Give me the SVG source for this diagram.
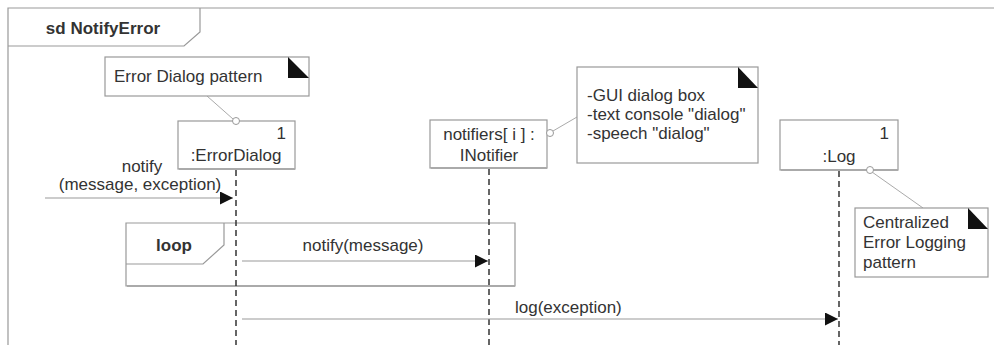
<svg xmlns="http://www.w3.org/2000/svg" width="994" height="345" viewBox="0 0 994 345">
<style>
text{font-family:"Liberation Sans",Arial,sans-serif;font-size:17px;fill:#333}
.b{font-weight:bold}
.frame{fill:none;stroke:#999;stroke-width:1.2}
.box{fill:#fff;stroke:#999;stroke-width:1.2}
.shadow{fill:none;stroke:#aaa;stroke-width:2}
.life{stroke:#333;stroke-width:1.5;stroke-dasharray:6 4;fill:none}
.msg{stroke:#999;stroke-width:1.2;fill:none}
.anchor{stroke:#aaa;stroke-width:1;fill:none}
.circ{fill:#fff;stroke:#999;stroke-width:1}
.fold{fill:#111}
</style>
<defs>
<marker id="ah" viewBox="0 0 10 10" refX="10" refY="5" markerWidth="13" markerHeight="13" markerUnits="userSpaceOnUse" orient="auto">
<path d="M0,0 L10,5 L0,10 z" fill="#111"/>
</marker>
</defs>
<rect width="994" height="345" fill="#fff"/>
<g id="frame">
<path class="frame" d="M8,345 V8 H994"/>
<path class="frame" d="M8,46 H184 L200,32 V8"/>
<text class="b" x="103" y="34" text-anchor="middle">sd NotifyError</text>
</g>
<g id="loop">
<path class="frame" d="M126,223 H515 V286 H126 Z"/>
<line class="shadow" x1="127" y1="286" x2="515" y2="286"/>
<path class="frame" d="M126,264 H203 L224,245 V223"/>
<text class="b" x="174" y="251" text-anchor="middle">loop</text>
</g>
<g id="lifelines">
<line class="life" x1="236" y1="170" x2="236" y2="345"/>
<line class="life" x1="489" y1="169" x2="489" y2="345"/>
<line class="life" x1="839" y1="171" x2="839" y2="345"/>
</g>
<g id="connectors">
<line class="anchor" x1="207" y1="96" x2="233" y2="119"/>
<line class="anchor" x1="553" y1="131" x2="577" y2="117"/>
<line class="anchor" x1="872" y1="172" x2="923" y2="208"/>
<line class="msg" x1="45" y1="198" x2="233" y2="198" marker-end="url(#ah)"/>
<text x="142" y="172" text-anchor="middle">notify</text>
<text x="140" y="190" text-anchor="middle">(message, exception)</text>
<line class="msg" x1="242" y1="261" x2="488" y2="261" marker-end="url(#ah)"/>
<text x="363" y="251" text-anchor="middle">notify(message)</text>
<line class="msg" x1="242" y1="319" x2="838" y2="319" marker-end="url(#ah)"/>
<text x="515" y="313">log(exception)</text>
</g>
<g id="note-errordialog">
<rect class="box" x="105" y="57" width="204" height="39"/>
<path class="fold" d="M288,57 L309,78 H288 Z"/>
<text x="114" y="82">Error Dialog pattern</text>
</g>
<g id="errordialog">
<rect class="box" x="178" y="121" width="117" height="48"/>
<line class="shadow" x1="179" y1="169" x2="295" y2="169"/>
<circle class="circ" cx="236" cy="121" r="3.5"/>
<text x="286" y="139" text-anchor="end">1</text>
<text x="236" y="161" text-anchor="middle">:ErrorDialog</text>
</g>
<g id="notifier">
<rect class="box" x="430" y="120" width="117" height="48"/>
<line class="shadow" x1="431" y1="168" x2="547" y2="168"/>
<circle class="circ" cx="550" cy="133" r="3.5"/>
<text x="489" y="140" text-anchor="middle">notifiers[ i ] :</text>
<text x="489" y="161" text-anchor="middle">INotifier</text>
</g>
<g id="note-notifier">
<rect class="box" x="577" y="67" width="181" height="96"/>
<path class="fold" d="M738,67 L758,88 H738 Z"/>
<text x="587" y="101">-GUI dialog box</text>
<text x="587" y="120">-text console "dialog"</text>
<text x="587" y="139">-speech "dialog"</text>
</g>
<g id="log">
<rect class="box" x="780" y="120" width="118" height="50"/>
<line class="shadow" x1="781" y1="170" x2="898" y2="170"/>
<circle class="circ" cx="870" cy="170" r="3.5"/>
<text x="889" y="139" text-anchor="end">1</text>
<text x="839" y="162" text-anchor="middle">:Log</text>
</g>
<g id="note-log">
<rect class="box" x="855" y="208" width="133" height="69"/>
<path class="fold" d="M968,208 L988,229 H968 Z"/>
<text x="863" y="228">Centralized</text>
<text x="863" y="248">Error Logging</text>
<text x="863" y="268">pattern</text>
</g>
</svg>
